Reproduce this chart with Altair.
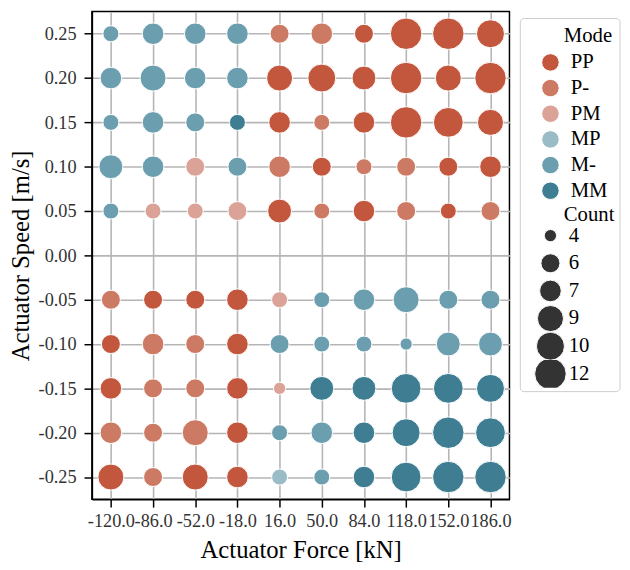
import altair as alt
import pandas as pd

forces = [-120, -86, -52, -18, 16, 50, 84, 118, 152, 186]
speeds = [0.25, 0.20, 0.15, 0.10, 0.05, -0.05, -0.10, -0.15, -0.20, -0.25]

modes = [
    ["M-", "M-", "M-", "M-", "P-", "P-", "PP", "PP", "PP", "PP"],
    ["M-", "M-", "M-", "M-", "PP", "PP", "PP", "PP", "PP", "PP"],
    ["M-", "M-", "M-", "MM", "PP", "P-", "PP", "PP", "PP", "PP"],
    ["M-", "M-", "PM", "M-", "P-", "PP", "P-", "P-", "PP", "PP"],
    ["M-", "PM", "PM", "PM", "PP", "P-", "PP", "P-", "PP", "P-"],
    ["P-", "PP", "PP", "PP", "PM", "M-", "M-", "M-", "M-", "M-"],
    ["PP", "P-", "P-", "PP", "M-", "M-", "M-", "M-", "M-", "M-"],
    ["PP", "P-", "P-", "PP", "PM", "MM", "MM", "MM", "MM", "MM"],
    ["P-", "P-", "P-", "PP", "M-", "M-", "MM", "MM", "MM", "MM"],
    ["PP", "P-", "PP", "PP", "MP", "M-", "MM", "MM", "MM", "MM"],
]
counts = [
    [5, 7, 7, 7, 6, 7, 6, 12, 12, 10],
    [7, 9, 7, 7, 9, 10, 8, 12, 9, 12],
    [5, 7, 6, 5, 7, 5, 7, 12, 11, 9],
    [8, 7, 6, 6, 7, 6, 5, 6, 6, 7],
    [5, 5, 5, 6, 8, 5, 7, 6, 5, 6],
    [6, 6, 6, 7, 5, 5, 7, 9, 6, 6],
    [6, 7, 6, 7, 6, 5, 5, 4, 8, 8],
    [7, 6, 6, 7, 4, 8, 8, 11, 11, 10],
    [7, 6, 9, 7, 5, 7, 7, 10, 12, 11],
    [9, 6, 9, 7, 5, 5, 7, 11, 12, 12],
]

mode_order = ["PP", "P-", "PM", "MP", "M-", "MM"]
mode_colors = ["#c3573d", "#cd7a64", "#dba397", "#9abcc7", "#6b9eae", "#3f7e92"]
size_legend_values = [4, 6, 7, 9, 10, 12]
y_ticks = [0.25, 0.20, 0.15, 0.10, 0.05, 0.0, -0.05, -0.10, -0.15, -0.20, -0.25]

rows = []
for i, s in enumerate(speeds):
    for j, f in enumerate(forces):
        rows.append({"force": f, "speed": s, "Mode": modes[i][j], "Count": counts[i][j]})
df = pd.DataFrame(rows)

FONT = "Liberation Serif"
LEG_FS = 21

points = alt.Chart(df).mark_circle(opacity=1, stroke="white", strokeWidth=1).encode(
    x=alt.X("force:Q",
            scale=alt.Scale(domain=[-135.3, 201.3], nice=False, zero=False),
            axis=alt.Axis(values=forces, title="Actuator Force [kN]",
                          labelExpr="(datum.value < 0 ? '-' : '') + format(abs(datum.value), '.1f')",
                          labelOverlap=False, labelBound=False, labelFlush=False,
                          titleY=51, titleBaseline="middle")),
    y=alt.Y("speed:Q",
            scale=alt.Scale(domain=[-0.275, 0.275], nice=False, zero=False),
            axis=alt.Axis(values=y_ticks, title="Actuator Speed [m/s]",
                          labelExpr="(datum.value < -0.0001 ? '-' : '') + format(abs(datum.value), '.2f')",
                          labelOverlap=False,
                          titleX=-72, titleBaseline="middle")),
    color=alt.Color("Mode:N", scale=alt.Scale(domain=mode_order, range=mode_colors),
                    legend=alt.Legend(orient="none", legendX=454, legendY=41, title=None,
                                      symbolSize=314, symbolType="circle",
                                      symbolStrokeColor="white", symbolStrokeWidth=1,
                                      symbolOpacity=1, labelOffset=10, rowPadding=3)),
    size=alt.Size("Count:Q", scale=alt.Scale(domain=[4, 12], range=[155, 1020], zero=False),
                  legend=alt.Legend(orient="none", legendX=448, legendY=213, title=None,
                                    values=size_legend_values, symbolType="circle",
                                    symbolFillColor="#333333", symbolStrokeColor="white",
                                    symbolStrokeWidth=1, symbolOpacity=1,
                                    labelOffset=2, rowPadding=0, clipHeight=28)),
)

one = pd.DataFrame({"k": [0]})
frame = alt.Chart(one).mark_rect(fill="white", stroke="#cccccc", strokeWidth=1,
                                 cornerRadius=4).encode(
    x=alt.value(434), x2=alt.value(535), y=alt.value(7), y2=alt.value(385))

mode_title = alt.Chart(one).mark_text(align="left", baseline="middle", font=FONT,
                                      fontSize=LEG_FS, color="black").encode(
    x=alt.value(478), y=alt.value(25), text=alt.value("Mode"))
count_title = alt.Chart(one).mark_text(align="left", baseline="middle", font=FONT,
                                       fontSize=LEG_FS, color="black").encode(
    x=alt.value(478), y=alt.value(206), text=alt.value("Count"))

chart = alt.layer(frame, points, mode_title, count_title).properties(
    width=423, height=494,
    autosize=alt.AutoSizeParams(type="none"),
    padding={"left": 85, "top": 0, "right": 114, "bottom": 60},
).configure_view(
    stroke="black", strokeWidth=1.5
).configure_axis(
    labelFont=FONT, titleFont=FONT, labelFontSize=18.5, titleFontSize=25,
    labelColor="#333333", titleColor="black", titleFontWeight="normal",
    grid=True, gridColor="#b5b5b5", gridWidth=1.6,
    domainColor="black", domainWidth=1.5,
    tickColor="black", tickWidth=1.5, tickSize=8, labelPadding=5,
    labelAngle=0,
).configure_axisY(
    labelPadding=8
).configure_legend(
    labelFont=FONT, labelFontSize=LEG_FS, labelColor="black", padding=0
)

chart.save("out.html", embed_options={"renderer": "svg", "actions": False})
